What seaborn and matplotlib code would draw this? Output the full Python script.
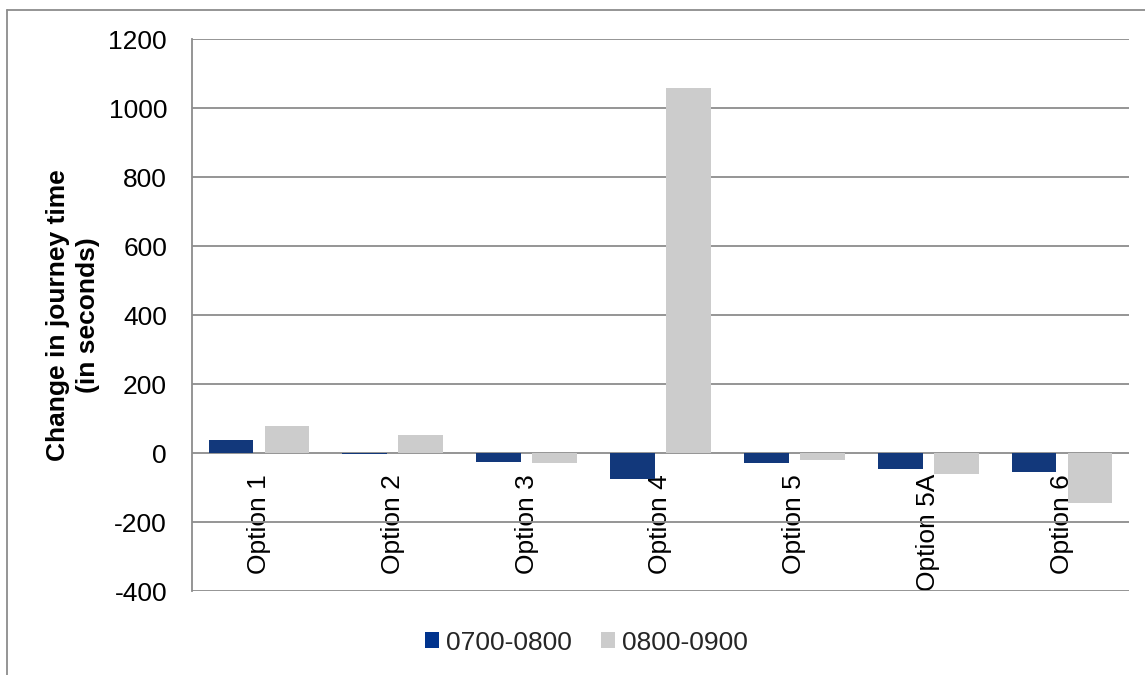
import matplotlib
matplotlib.use("Agg")
import matplotlib.pyplot as plt
from matplotlib.patches import Rectangle
from matplotlib.lines import Line2D
import seaborn as sns
import pandas as pd

# Change in journey time per option, by peak hour
options = ["Option 1", "Option 2", "Option 3", "Option 4",
           "Option 5", "Option 5A", "Option 6"]
period_am1 = "0700-0800"
period_am2 = "0800-0900"
change_0700_0800 = [38, -2, -27, -76, -28, -45, -54]
change_0800_0900 = [78, 52, -28, 1060, -20, -60, -144]
y_ticks = [-400, -200, 0, 200, 400, 600, 800, 1000, 1200]

blue = "#00338D"
grey = "#CCCCCC"
line_grey = "#8C8C8C"
fs = 19

df = pd.DataFrame({
    "option": options * 2,
    "period": [period_am1] * len(options) + [period_am2] * len(options),
    "change": change_0700_0800 + change_0800_0900,
})

sns.set_theme(style="white")
plt.rcParams["font.family"] = ["Liberation Sans", "DejaVu Sans"]

fig = plt.figure(figsize=(11.45, 6.75), dpi=100)
ax = fig.add_axes([0.1677, 0.1244, 0.986 - 0.1677, 0.9416 - 0.1244])

sns.barplot(data=df, x="option", y="change", hue="period",
            palette=[blue, grey], width=0.836, gap=0.2,
            errorbar=None, linewidth=0, edgecolor="none",
            legend=False, ax=ax, zorder=3)

ax.set_ylim(-400, 1200)
ax.set_yticks(y_ticks)
ax.set_yticklabels([str(v) for v in y_ticks])
ax.yaxis.grid(True, color=line_grey, linewidth=1.3, zorder=0)
ax.xaxis.grid(False)
ax.set_axisbelow(True)

for side in ["top", "right"]:
    ax.spines[side].set_visible(False)
ax.spines["left"].set_color(line_grey)
ax.spines["left"].set_linewidth(1.3)
# category labels hang just below the zero line
ax.spines["bottom"].set_position(("data", 0))
ax.spines["bottom"].set_visible(False)

ax.tick_params(axis="y", length=0, pad=18, labelsize=fs, labelcolor="black")
ax.tick_params(axis="x", length=0, pad=15, labelsize=fs, labelcolor="black")
for lbl in ax.get_xticklabels():
    lbl.set_rotation(90)
    lbl.set_va("top")
    lbl.set_ha("center")

ax.set_xlabel("")
ax.set_ylabel("Change in journey time\n(in seconds)", fontsize=fs,
              fontweight="bold", color="black", linespacing=1.3)
ax.yaxis.set_label_coords(-0.098, 0.5)

handles = [Rectangle((0, 0), 1, 1, facecolor=blue, edgecolor="none"),
           Rectangle((0, 0), 1, 1, facecolor=grey, edgecolor="none")]
fig.legend(handles, [period_am1, period_am2], loc="center",
           bbox_to_anchor=(0.512, 0.048), ncol=2, frameon=False,
           fontsize=fs, handlelength=0.55, handleheight=0.55,
           handletextpad=0.25, columnspacing=1.1)

# outer chart frame
W, H = 1145, 675
fig.add_artist(Line2D([7 / W, 7 / W], [0, 1 - 10 / H], color=line_grey,
                      linewidth=1.3, transform=fig.transFigure))
fig.add_artist(Line2D([7 / W, 1], [1 - 10 / H, 1 - 10 / H], color=line_grey,
                      linewidth=1.3, transform=fig.transFigure))

fig.savefig("out.png", dpi=100)
